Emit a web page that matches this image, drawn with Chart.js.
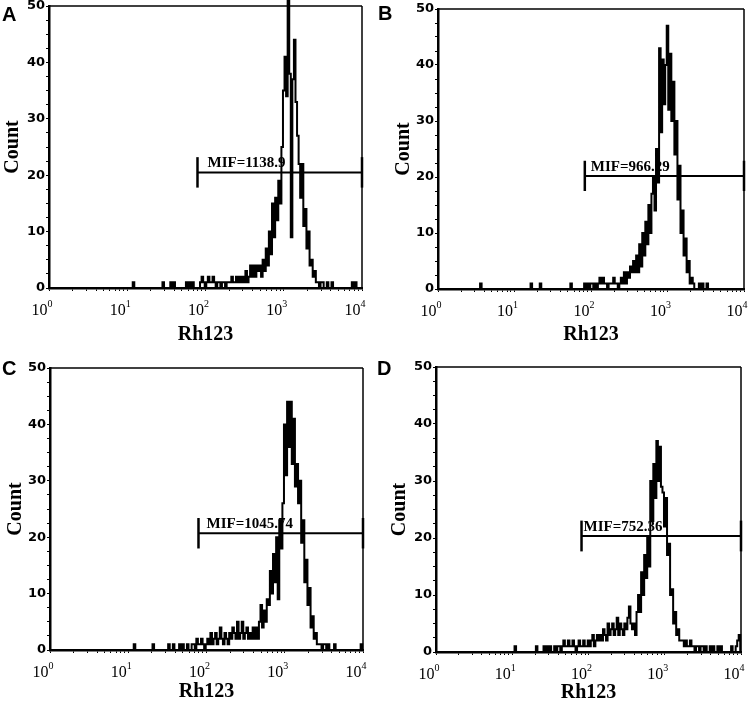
<!DOCTYPE html>
<html>
<head>
<meta charset="utf-8">
<script src="https://cdn.jsdelivr.net/npm/chart.js@4.4.1/dist/chart.umd.min.js"></script>
<style>
  html, body { margin: 0; padding: 0; background: #fff; }
  #wrap { position: relative; width: 750px; height: 703px; overflow: hidden; }
  canvas { position: absolute; }
</style>
</head>
<body>
<div id="wrap">
  <canvas id="pA" width="375" height="350" style="left:0;top:0"></canvas>
  <canvas id="pB" width="375" height="350" style="left:375px;top:0"></canvas>
  <canvas id="pC" width="375" height="353" style="left:0;top:350px"></canvas>
  <canvas id="pD" width="375" height="353" style="left:375px;top:350px"></canvas>
</div>
<script>
// histogram channels: 50 per decade, channel k sits at 10^(k/50), k = 0..200
const perDecade = 50;

const countsA = [
  0,0,0,0,0,0,0,0,0,0, 0,0,0,0,0,0,0,0,0,0, 0,0,0,0,0,0,0,0,0,0,
  0,0,0,0,0,0,0,0,0,0, 0,0,0,0,0,0,0,0,0,0,
  0,0,0,0,1,0,0,0,0,0, 0,0,0,0,0,0,0,0,0,0,
  0,0,0,1,0,0,0,0,1,0, 1,0,0,0,0,0,0,0,1,0,
  1,0,1,0,0,0,0,1,2,1, 0,1,2,1,1,2,1,0,1,1,
  0,1,1,0,1,1,1,2,1,1, 2,1,2,1,2,1,3,1,2,4,
  2,4,2,4,3,4,2,5,3,7, 4,10,6,15,9,16,12,19,15,25,
  35,41,34,51,38,9,37,44,33,27, 22,16,22,11,14,7,10,4,5,2,
  3,1,1,0,1,1,0,0,1,0, 0,1,0,0,0,0,0,0,0,0,
  0,0,0,0,1,0,1,0,0,0, 0
];
const countsB = [
  0,0,0,0,0,0,0,0,0,0, 0,0,0,0,0,0,0,0,0,0, 0,0,0,0,0,0,0,0,1,0,
  0,0,0,0,0,0,0,0,0,0, 0,0,0,0,0,0,0,0,0,0,
  0,0,0,0,0,0,0,0,0,0, 0,1,0,0,0,0,0,1,0,0,
  0,0,0,0,0,0,0,0,0,0, 0,0,0,0,0,0,0,1,0,0,
  0,0,0,0,0,0,1,0,1,0, 1,1,0,1,0,1,2,1,2,1,
  1,0,1,1,1,2,1,1,0,1, 2,1,3,1,3,2,4,3,5,3,
  6,3,8,4,10,6,12,8,15,10, 17,20,14,25,19,43,28,41,33,40,
  47,32,42,30,37,24,30,16,22,10, 14,6,9,3,5,1,2,1,0,0,
  0,1,0,1,0,0,1,0,0,0, 0,0,0,0,0,0,0,0,0,0,
  0,0,0,0,0,0,0,0,0,0, 0
];
const countsC = [
  0,0,0,0,0,0,0,0,0,0, 0,0,0,0,0,0,0,0,0,0, 0,0,0,0,0,0,0,0,0,0,
  0,0,0,0,0,0,0,0,0,0, 0,0,0,0,0,0,0,0,0,0,
  0,0,0,0,1,0,0,0,0,0, 0,0,0,0,0,0,1,0,0,0,
  0,0,0,0,0,0,1,0,0,1, 0,0,0,1,0,1,0,0,1,0,
  0,1,1,0,2,1,1,2,1,0, 1,2,1,3,1,2,3,1,2,4,
  2,1,3,2,1,3,2,4,3,2, 5,2,3,5,2,3,4,2,3,2,
  4,2,4,2,5,8,4,7,5,9, 8,14,10,17,12,20,9,23,18,26,
  40,31,44,36,44,33,41,29,33,26, 30,19,23,12,16,8,11,4,6,2,
  3,1,1,1,0,1,1,0,1,0, 0,0,1,0,0,0,0,0,0,0,
  0,0,0,0,0,0,0,0,0,1, 0
];
const countsD = [
  0,0,0,0,0,0,0,0,0,0, 0,0,0,0,0,0,0,0,0,0, 0,0,0,0,0,0,0,0,0,0,
  0,0,0,0,0,0,0,0,0,0, 0,0,0,0,0,0,0,0,0,0,
  0,0,1,0,0,0,0,0,0,0, 0,0,0,0,0,0,1,0,0,0,
  0,1,0,1,0,1,0,0,1,0, 1,1,0,1,2,1,1,2,1,1,
  2,1,0,1,2,1,1,2,1,1, 2,1,2,3,1,2,3,2,3,2,
  4,3,2,5,3,4,5,3,4,6, 3,5,4,3,5,4,6,8,5,4,
  5,3,7,10,7,14,10,17,13,20, 15,30,23,33,27,37,30,36,29,28,
  22,27,17,19,10,11,5,7,3,4, 2,2,2,1,2,1,1,2,1,1,
  0,1,1,0,1,1,0,1,0,0, 1,0,1,0,0,1,0,1,0,0,
  0,0,0,0,1,0,0,1,2,3, 0
];

const panelLetters = ['A', 'B', 'C', 'D'];
const mifLabels = ['MIF=1138.9', 'MIF=966.29', 'MIF=1045.74', 'MIF=752.36'];
const gateStart = [79, 83, 79, 81];          // left end of the M1 marker (Rh123)
const gateLevel = [20.5, 20.2, 20.7, 20.35]; // height of the marker bar (Count)
const gateCap = 2.7;                         // half height of the end bars (Count)
const xPowers = [0, 1, 2, 3, 4];             // tick labels 10^0 .. 10^4
const yMajor = [0, 10, 20, 30, 40, 50];
const yMinorStep = 2.5;
const xTitle = 'Rh123';
const yTitle = 'Count';

// pixel layout of each canvas
const layouts = [
  { id: 'pA', yW: 49, xH: 62, top: 6,  right: 13, tPadX: 5, tPadY: 2.5, letter: [2, 21], textDx: 10 },
  { id: 'pB', yW: 63, xH: 61, top: 9,  right: 6,  tPadX: 5, tPadY: 19,  letter: [3, 20], textDx: 6 },
  { id: 'pC', yW: 50, xH: 53, top: 18, right: 12, tPadX: 1, tPadY: 5.5, letter: [2, 25], textDx: 8 },
  { id: 'pD', yW: 61, xH: 51, top: 17, right: 9,  tPadX: 0, tPadY: 15,  letter: [2, 25], textDx: 2 }
];

const xTickVals = [];
xPowers.forEach(p => {
  if (p < 4) { for (let s = 1; s < 10; s++) xTickVals.push(s * Math.pow(10, p)); }
  else xTickVals.push(Math.pow(10, p));
});
const yTickVals = [];
for (let v = 0; v <= 50; v += yMinorStep) yTickVals.push(v);

function line(ctx, x0, y0, x1, y1) {
  ctx.beginPath(); ctx.moveTo(x0, y0); ctx.lineTo(x1, y1); ctx.stroke();
}

function panelPlugin(i) {
  const L = layouts[i];
  return {
    id: 'panelDecor' + i,
    beforeDatasetsDraw(chart) {
      const { ctx, scales: { x, y } } = chart;
      const x0 = x.getPixelForValue(gateStart[i]);
      const x1 = x.getPixelForValue(10000);
      const yg = y.getPixelForValue(gateLevel[i]);
      const ya = y.getPixelForValue(gateLevel[i] + gateCap);
      const yb = y.getPixelForValue(gateLevel[i] - gateCap);
      ctx.save();
      ctx.strokeStyle = '#000';
      ctx.lineWidth = 2;
      line(ctx, x0, yg, x1, yg);
      ctx.lineWidth = 2.5;
      line(ctx, x0, ya, x0, yb);
      line(ctx, x1, ya, x1, yb);
      ctx.fillStyle = '#000';
      ctx.font = 'bold 15px "Liberation Serif"';
      ctx.textAlign = 'left';
      ctx.textBaseline = 'alphabetic';
      ctx.fillText(mifLabels[i], x0 + L.textDx, yg - 5);
      ctx.restore();
    },
    afterDraw(chart) {
      const { ctx, chartArea: a, scales: { x } } = chart;
      ctx.save();
      ctx.strokeStyle = '#000';
      ctx.lineWidth = 1.5;
      line(ctx, a.left, a.top, a.right, a.top);
      line(ctx, a.right, a.top, a.right, a.bottom);
      ctx.fillStyle = '#000';
      ctx.textBaseline = 'alphabetic';
      xPowers.forEach(p => {
        const px = x.getPixelForValue(Math.pow(10, p));
        ctx.font = '16px "Liberation Serif"';
        ctx.textAlign = 'right';
        ctx.fillText('10', px - 1.5, a.bottom + 27);
        ctx.font = '10px "Liberation Serif"';
        ctx.textAlign = 'left';
        ctx.fillText(String(p), px - 1.5, a.bottom + 19);
      });
      ctx.font = 'bold 20px "Liberation Sans"';
      ctx.textAlign = 'left';
      ctx.fillText(panelLetters[i], L.letter[0], L.letter[1]);
      ctx.restore();
    }
  };
}

function makePanel(i, counts) {
  const L = layouts[i];
  const pts = counts.map((c, k) => ({ x: Math.pow(10, k / perDecade), y: c }));
  const titleFont = { family: 'Liberation Serif', size: 20, weight: 'bold', lineHeight: 1 };
  return new Chart(document.getElementById(L.id), {
    type: 'line',
    data: {
      datasets: [{
        data: pts,
        borderColor: '#000',
        borderWidth: 2,
        pointRadius: 0,
        stepped: 'middle',
        tension: 0,
        clip: false
      }]
    },
    options: {
      responsive: false,
      animation: false,
      events: [],
      layout: { padding: { top: L.top, right: L.right, left: 0, bottom: 0 } },
      plugins: { legend: { display: false }, tooltip: { enabled: false } },
      scales: {
        x: {
          type: 'logarithmic',
          min: 1,
          max: 10000,
          afterFit: s => { s.height = L.xH; s.paddingLeft = 0; s.paddingRight = 0; },
          afterBuildTicks: s => { s.ticks = xTickVals.map(v => ({ value: v })); },
          ticks: { autoSkip: false, maxRotation: 0, callback: () => '' },
          grid: { display: true, drawOnChartArea: false, tickLength: 3, tickColor: '#000', tickWidth: 1 },
          border: { display: true, color: '#000', width: 2.5 },
          title: { display: true, text: xTitle, color: '#000', font: titleFont, padding: { top: 0, bottom: L.tPadX } }
        },
        y: {
          min: 0,
          max: 50,
          afterFit: s => { s.width = L.yW; s.paddingTop = 0; s.paddingBottom = 0; },
          afterBuildTicks: s => { s.ticks = yTickVals.map(v => ({ value: v })); },
          ticks: {
            autoSkip: false,
            color: '#000',
            padding: 1,
            font: { family: 'DejaVu Sans', size: 13, weight: 'bold', lineHeight: 1 },
            callback: v => (yMajor.includes(v) ? String(v) : '')
          },
          grid: { display: true, drawOnChartArea: false, tickLength: 3, tickColor: '#000', tickWidth: 1 },
          border: { display: true, color: '#000', width: 2.5 },
          title: { display: true, text: yTitle, color: '#000', font: titleFont, padding: { top: L.tPadY, bottom: 0 } }
        }
      }
    },
    plugins: [panelPlugin(i)]
  });
}

makePanel(0, countsA);
makePanel(1, countsB);
makePanel(2, countsC);
makePanel(3, countsD);
</script>
</body>
</html>
